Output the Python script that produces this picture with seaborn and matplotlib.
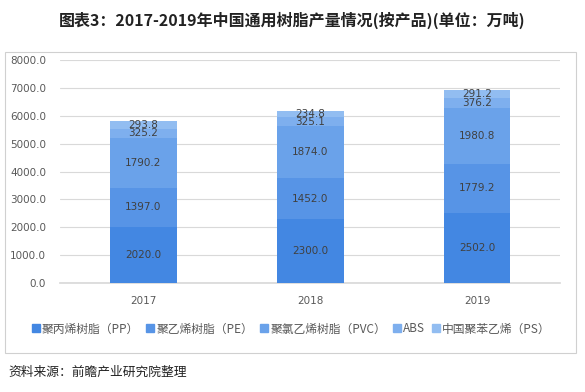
import matplotlib
matplotlib.use("Agg")
import matplotlib.pyplot as plt
import seaborn as sns
import pandas as pd
import numpy as np
from matplotlib.lines import Line2D
from matplotlib.patches import Rectangle

years = ["2017", "2018", "2019"]
series_names = ["聚丙烯树脂（PP）", "聚乙烯树脂（PE）", "聚氯乙烯树脂（PVC）", "ABS", "中国聚苯乙烯（PS）"]
pp = [2020.0, 2300.0, 2502.0]
pe = [1397.0, 1452.0, 1779.2]
pvc = [1790.2, 1874.0, 1980.8]
abs_ = [325.2, 325.1, 376.2]
ps = [293.8, 234.8, 291.2]
colors = ["#4387e2", "#5794e6", "#6aa2ea", "#7eafee", "#92bdf1"]
yticks = [0, 1000, 2000, 3000, 4000, 5000, 6000, 7000, 8000]

sns.set_theme(style="white")
plt.rcParams["font.family"] = ["Noto Sans CJK SC", "DejaVu Sans"]

series = [pp, pe, pvc, abs_, ps]
cum = np.cumsum(np.array(series), axis=0)

fig = plt.figure(figsize=(5.85, 3.92), dpi=100)
ax = fig.add_axes([0.1026, 0.278, 0.8555, 0.569])

# draw cumulative layers from top to bottom so they stack
for i in range(len(series) - 1, -1, -1):
    df = pd.DataFrame({"year": years, "value": cum[i]})
    sns.barplot(data=df, x="year", y="value", color=colors[i], width=0.4,
                saturation=1, ax=ax, zorder=3, linewidth=0, edgecolor="none")

# labels at centre of each segment
for i, vals in enumerate(series):
    for j, v in enumerate(vals):
        ax.text(j, cum[i][j] - v / 2, f"{v:.1f}", ha="center", va="center",
                fontsize=7.5, color="#404040", family="DejaVu Sans", zorder=5)

ax.set_ylim(0, 8000)
ax.set_xlim(-0.5, 2.5)
ax.set_yticks(yticks)
ax.set_yticklabels([f"{t:.1f}" for t in yticks])
ax.set_xlabel("")
ax.set_ylabel("")
ax.yaxis.grid(True, color="#d9d9d9", linewidth=0.8, zorder=0)
ax.set_axisbelow(True)
for s in ["left", "right", "top"]:
    ax.spines[s].set_visible(False)
ax.spines["bottom"].set_color("#d9d9d9")
ax.tick_params(axis="y", length=0, pad=10, labelsize=7.5, labelcolor="#595959")
ax.tick_params(axis="x", length=0, pad=9, labelsize=7.5, labelcolor="#595959")
for lab in ax.get_xticklabels() + ax.get_yticklabels():
    lab.set_family("DejaVu Sans")

handles = [Line2D([0], [0], marker="s", linestyle="", markersize=6,
                  markerfacecolor=c, markeredgecolor=c) for c in colors]
fig.legend(handles, series_names, loc="center", bbox_to_anchor=(0.497, 0.161),
           ncol=5, frameon=False, fontsize=8.5, handletextpad=0.05,
           columnspacing=0.5, labelcolor="#595959", handlelength=0.9)

# outer frame
fig.patches.append(Rectangle((5 / 585, 1 - 353 / 392), 571 / 585, 301 / 392,
                             transform=fig.transFigure, fill=False,
                             edgecolor="#d0d0d0", linewidth=0.8))

fig.text(0.5, 1 - 20 / 392, "图表3：2017-2019年中国通用树脂产量情况(按产品)(单位：万吨)",
         ha="center", va="center", fontsize=11.5, fontweight="bold", color="#222222")
fig.text(8 / 585, 1 - 372 / 392, "资料来源：前瞻产业研究院整理", ha="left", va="center",
         fontsize=9.2, color="#222222")

fig.savefig("out.png", dpi=100)
